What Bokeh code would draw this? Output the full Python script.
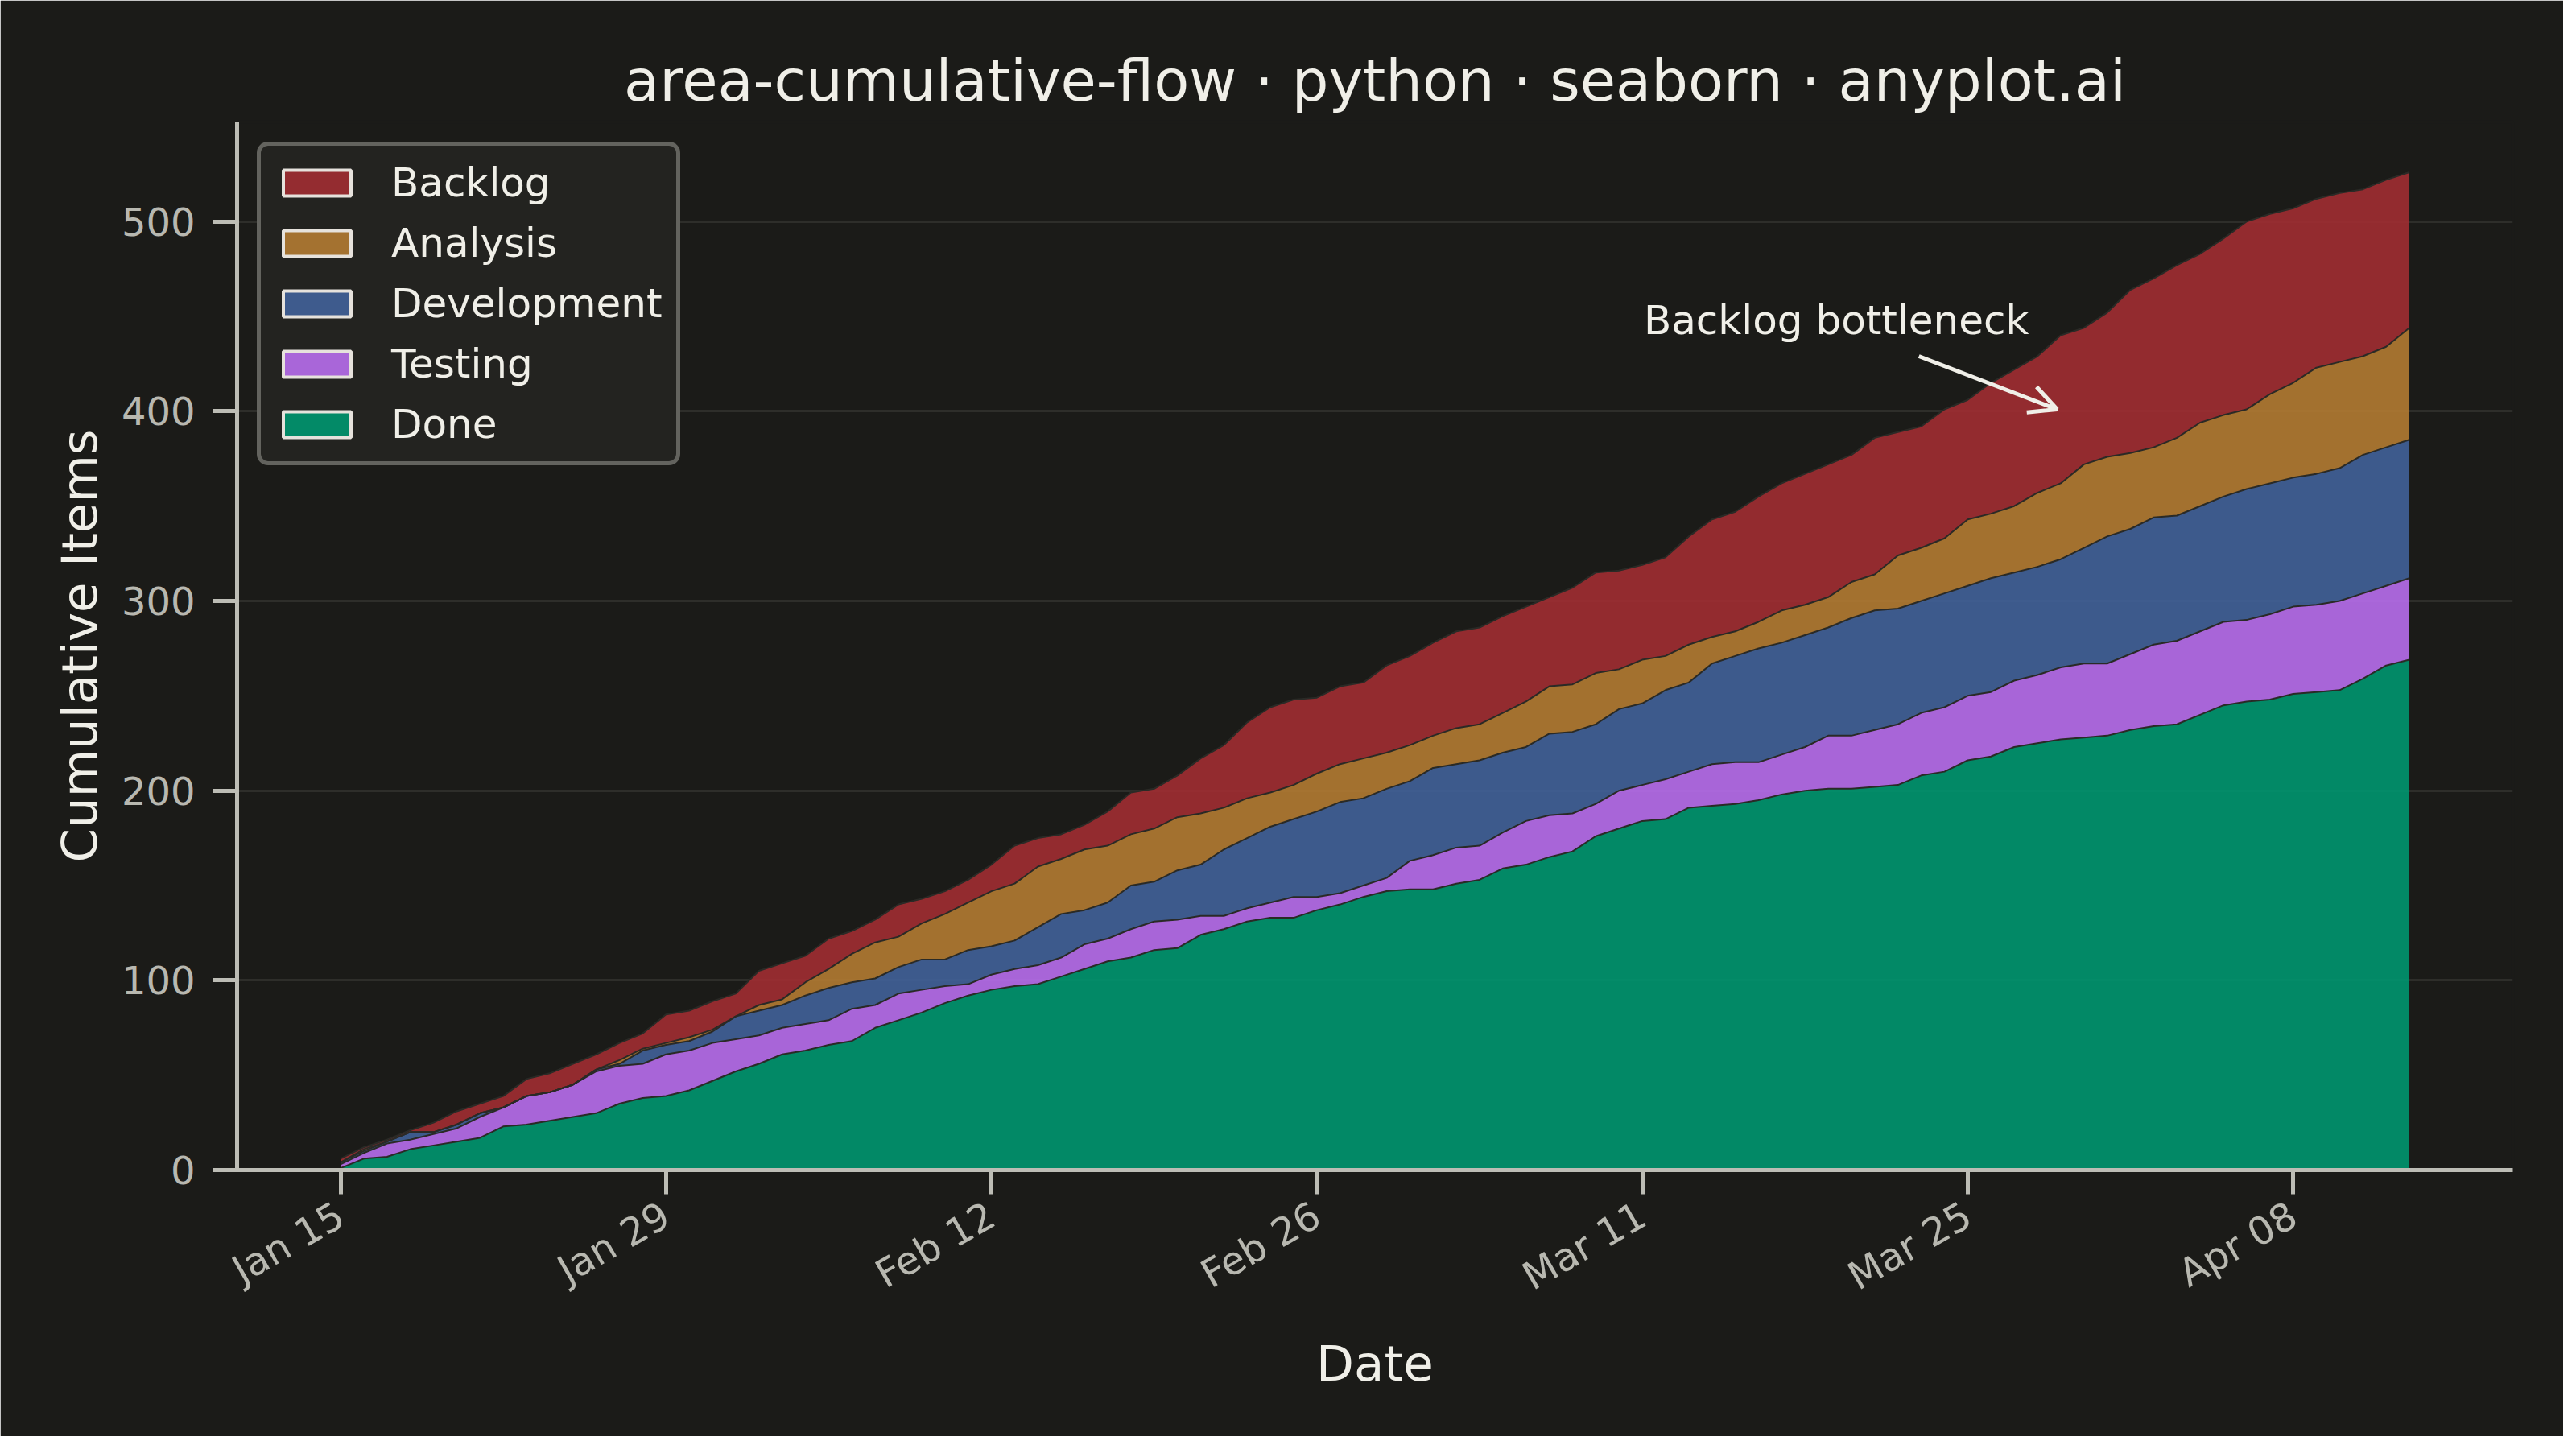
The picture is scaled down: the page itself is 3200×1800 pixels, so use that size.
import math
import pandas as pd
from bokeh.plotting import figure
from bokeh.models import (ColumnDataSource, Range1d, FixedTicker, DatetimeTickFormatter,
                          Legend, LegendItem, Label, Arrow, OpenHead)
from bokeh.embed import file_html
from bokeh.resources import INLINE

# cumulative item counts per stage boundary, one value per day from Jan 15 2024
done = [1, 6, 7, 11, 13, 15, 17, 23, 24, 26,
        28, 30, 35, 38, 39, 42, 47, 52, 56, 61,
        63, 66, 68, 75, 79, 83, 88, 92, 95, 97,
        98, 102, 106, 110, 112, 116, 117, 124, 127, 131,
        133, 133, 137, 140, 144, 147, 148, 148, 151, 153,
        159, 161, 165, 168, 176, 180, 184, 185, 191, 192,
        193, 195, 198, 200, 201, 201, 202, 203, 208, 210,
        216, 218, 223, 225, 227, 228, 229, 232, 234, 235,
        240, 245, 247, 248, 251, 252, 253, 259, 266, 269]
testing = [3, 9, 14, 16, 19, 22, 28, 33, 39, 41,
           45, 52, 55, 56, 61, 63, 67, 69, 71, 75,
           77, 79, 85, 87, 93, 95, 97, 98, 103, 106,
           108, 112, 119, 122, 127, 131, 132, 134, 134, 138,
           141, 144, 144, 146, 150, 154, 163, 166, 170, 171,
           178, 184, 187, 188, 193, 200, 203, 206, 210, 214,
           215, 215, 219, 223, 229, 229, 232, 235, 241, 244,
           250, 252, 258, 261, 265, 267, 267, 272, 277, 279,
           284, 289, 290, 293, 297, 298, 300, 304, 308, 312]
development = [4, 10, 15, 20, 20, 24, 30, 33, 39, 41,
               45, 53, 56, 63, 66, 68, 73, 81, 84, 87,
               92, 96, 99, 101, 107, 111, 111, 116, 118, 121,
               128, 135, 137, 141, 150, 152, 158, 161, 169, 175,
               181, 185, 189, 194, 196, 201, 205, 212, 214, 216,
               220, 223, 230, 231, 235, 243, 246, 253, 257, 267,
               271, 275, 278, 282, 286, 291, 295, 296, 300, 304,
               308, 312, 315, 318, 322, 328, 334, 338, 344, 345,
               350, 355, 359, 362, 365, 367, 370, 377, 381, 385]
analysis = [4, 11, 15, 20, 20, 24, 30, 33, 39, 41,
            45, 53, 58, 64, 67, 70, 74, 81, 87, 90,
            99, 106, 114, 120, 123, 130, 135, 141, 147, 151,
            160, 164, 169, 171, 177, 180, 186, 188, 191, 196,
            199, 203, 209, 214, 217, 220, 224, 229, 233, 235,
            241, 247, 255, 256, 262, 264, 269, 271, 277, 281,
            284, 289, 295, 298, 302, 310, 314, 324, 328, 333,
            343, 346, 350, 357, 362, 372, 376, 378, 381, 386,
            394, 398, 401, 409, 415, 423, 426, 429, 434, 444]
backlog = [6, 12, 16, 21, 25, 31, 35, 39, 48, 51,
           56, 61, 67, 72, 82, 84, 89, 93, 105, 109,
           113, 122, 126, 132, 140, 143, 147, 153, 161, 171,
           175, 177, 182, 189, 199, 201, 208, 217, 224, 236,
           244, 248, 249, 255, 257, 266, 271, 278, 284, 286,
           292, 297, 302, 307, 315, 316, 319, 323, 334, 343,
           347, 355, 362, 367, 372, 377, 386, 389, 392, 401,
           406, 415, 422, 429, 440, 444, 452, 464, 470, 477,
           483, 491, 500, 504, 507, 512, 515, 517, 522, 526]

stages = ["Done", "Testing", "Development", "Analysis", "Backlog"]
colors = ["#00966F", "#B86EED", "#416299", "#B27B32", "#A12D32"]
y_ticks = [0, 100, 200, 300, 400, 500]

dates = pd.date_range("2024-01-15", periods=len(done), freq="D")
tick_dates = pd.date_range("2024-01-15", periods=7, freq="14D")

BG = "#1B1B18"
INK = "#F0EFE8"
SOFT = "#B8B8B0"
FONT = "DejaVu Sans"


def ms(ts):
    return ts.timestamp() * 1000.0


src = ColumnDataSource(dict(date=dates, zero=[0] * len(done), done=done, testing=testing,
                            development=development, analysis=analysis, backlog=backlog))
cols = ["zero", "done", "testing", "development", "analysis", "backlog"]

pad = pd.Timedelta(days=4.45)
p = figure(width=3184, height=1784, x_axis_type="datetime",
           x_range=Range1d(dates[0] - pad, dates[-1] + pad),
           y_range=Range1d(0, 552.5),
           output_backend="svg", toolbar_location=None,
           min_border_left=294, min_border_right=63,
           min_border_top=151, min_border_bottom=331)
p.background_fill_color = BG
p.border_fill_color = BG
# outline in background colour hides the seam between frame and border fills
p.outline_line_color = BG
p.outline_line_width = 4

p.title.text = "area-cumulative-flow \u00b7 python \u00b7 seaborn \u00b7 anyplot.ai"
p.title.align = "center"
p.title.text_font = FONT
p.title.text_font_size = "72px"
p.title.text_font_style = "normal"
p.title.text_color = INK
p.title.standoff = 20

# stacked areas
for i, stage in enumerate(stages):
    p.varea(x="date", y1=cols[i], y2=cols[i + 1], source=src,
            fill_color=colors[i], fill_alpha=0.9)
for c in cols[1:]:
    p.line(x="date", y=c, source=src, line_color="#2A2A26", line_width=2)

# legend with outlined patches (proxy marks sit below the visible range)
items = []
for i in reversed(range(len(stages))):
    r = p.rect(x=[dates[0]], y=[-1000], width=1, height=1, fill_color=colors[i],
               fill_alpha=0.9, line_color="#E6E2DC", line_width=4)
    items.append(LegendItem(label=stages[i], renderers=[r]))
legend = Legend(items=items, location="top_left", margin=25, padding=17, spacing=17,
                glyph_width=105, glyph_height=40, label_height=58, label_standoff=40,
                label_text_font=FONT, label_text_font_size="50px", label_text_color=INK,
                background_fill_color="#232320", background_fill_alpha=1.0,
                border_line_color="#A3A39C", border_line_width=5)
if "border_radius" in Legend.properties():
    legend.border_radius = 14
p.add_layout(legend, "center")

# annotation
base = dates[0]
p.add_layout(Label(x=ms(base + pd.Timedelta(days=64.35)), y=448, text="Backlog bottleneck",
                   text_align="center", text_baseline="middle", text_font=FONT,
                   text_font_size="50px", text_color=INK))
p.add_layout(Arrow(end=OpenHead(size=34, line_color=INK, line_width=5),
                   x_start=ms(base + pd.Timedelta(days=67.9)), y_start=429,
                   x_end=ms(base + pd.Timedelta(days=73.85)), y_end=401,
                   line_color=INK, line_width=5))

# axes
p.xaxis.ticker = FixedTicker(ticks=[ms(t) for t in tick_dates])
fmt = "%b %d"
p.xaxis.formatter = DatetimeTickFormatter(days=fmt, months=fmt, years=fmt, hours=fmt,
                                          minutes=fmt, seconds=fmt, milliseconds=fmt,
                                          microseconds=fmt, hourmin=fmt, minsec=fmt)
p.xaxis.major_label_orientation = math.pi / 6
p.yaxis.ticker = FixedTicker(ticks=y_ticks)
p.xaxis.axis_label = "Date"
p.yaxis.axis_label = "Cumulative Items"

for ax in (p.xaxis, p.yaxis):
    ax.axis_line_color = "#BDBDB5"
    ax.axis_line_width = 5
    ax.major_tick_line_color = "#BDBDB5"
    ax.major_tick_line_width = 5
    ax.major_tick_out = 30
    ax.major_tick_in = 0
    ax.minor_tick_line_color = None
    ax.major_label_text_font = FONT
    ax.major_label_text_font_size = "48px"
    ax.major_label_text_color = SOFT
    ax.major_label_standoff = 22
    ax.axis_label_text_font = FONT
    ax.axis_label_text_font_size = "61px"
    ax.axis_label_text_font_style = "normal"
    ax.axis_label_text_color = INK
p.xaxis.axis_label_standoff = 18
p.yaxis.axis_label_standoff = 14

p.xgrid.visible = False
p.ygrid.grid_line_color = INK
p.ygrid.grid_line_alpha = 0.09
p.ygrid.grid_line_width = 3

open("out.html", "w").write(file_html(p, INLINE))
